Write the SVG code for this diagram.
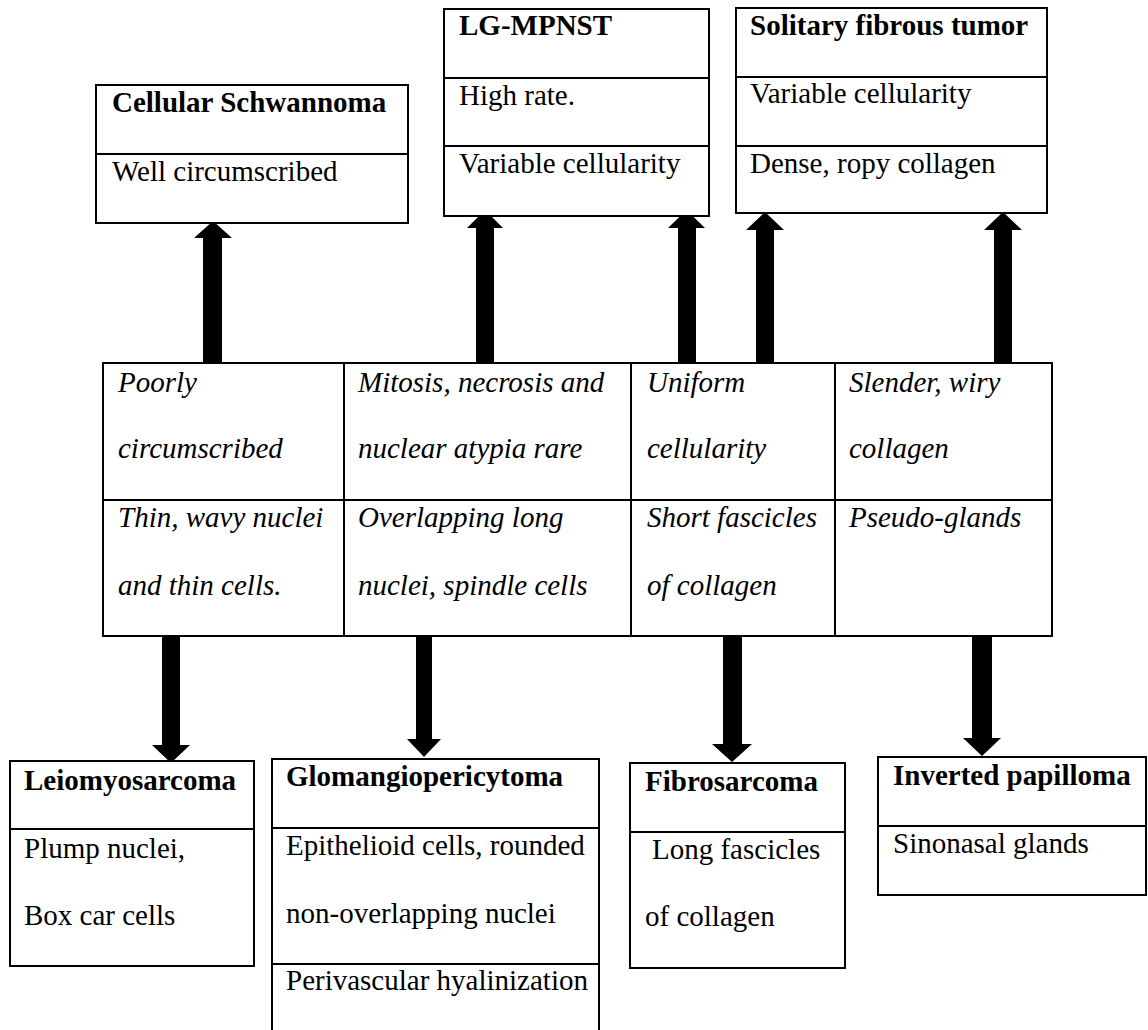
<svg xmlns="http://www.w3.org/2000/svg" width="1148" height="1030" viewBox="0 0 1148 1030">
<style>
.box{fill:#fff;stroke:#000;stroke-width:2}
.ln{stroke:#000;stroke-width:2}
text{font-family:"Liberation Serif","Times New Roman",serif;font-size:29px;fill:#000}
.b{font-weight:bold}
.i{font-style:italic}
.arr{fill:#000}
</style>
<rect width="1148" height="1030" fill="#fff"/>
<g id="connectors">
<polygon class="arr" points="203,362 222,362 222,238 232,238 213,221 194,238 203,238"/>
<polygon class="arr" points="476,362 494,362 494,228 503,228 485,210 467,228 476,228"/>
<polygon class="arr" points="678,362 696,362 696,228 705,228 686.5,210 668,228 678,228"/>
<polygon class="arr" points="756,362 774,362 774,230 784,230 765,212 746,230 756,230"/>
<polygon class="arr" points="994,362 1012,362 1012,230 1022,230 1003,212 984,230 994,230"/>
<polygon class="arr" points="162,635 180,635 180,745 190,745 171,763 152,745 162,745"/>
<polygon class="arr" points="416,635 432,635 432,739 441,739 424,757 407,739 416,739"/>
<polygon class="arr" points="723,635 742,635 742,744 752,744 732,762 712,744 723,744"/>
<polygon class="arr" points="972,635 992,635 992,738 1001,738 982,756 963,738 972,738"/>
</g>
<g id="cellular-schwannoma">
<rect class="box" x="96" y="85" width="312" height="138"/>
<line class="ln" x1="96" y1="154" x2="408" y2="154"/>
<text class="b" x="112" y="112">Cellular Schwannoma</text>
<text x="112" y="181">Well circumscribed</text>
</g>
<g id="lg-mpnst">
<rect class="box" x="444" y="9" width="265" height="207"/>
<line class="ln" x1="444" y1="78" x2="709" y2="78"/>
<line class="ln" x1="444" y1="146" x2="709" y2="146"/>
<text class="b" x="459" y="35">LG-MPNST</text>
<text x="459" y="105">High rate.</text>
<text x="459" y="173">Variable cellularity</text>
</g>
<g id="solitary-fibrous-tumor">
<rect class="box" x="736" y="8" width="311" height="205"/>
<line class="ln" x1="736" y1="77" x2="1047" y2="77"/>
<line class="ln" x1="736" y1="146" x2="1047" y2="146"/>
<text class="b" x="750" y="35">Solitary fibrous tumor</text>
<text x="750" y="103">Variable cellularity</text>
<text x="750" y="173">Dense, ropy collagen</text>
</g>
<g id="features-table">
<rect class="box" x="103" y="363" width="949" height="273"/>
<line class="ln" x1="103" y1="500" x2="1052" y2="500"/>
<line class="ln" x1="344" y1="363" x2="344" y2="636"/>
<line class="ln" x1="631" y1="363" x2="631" y2="636"/>
<line class="ln" x1="835" y1="363" x2="835" y2="636"/>
<text class="i" x="118" y="392">Poorly</text>
<text class="i" x="118" y="458">circumscribed</text>
<text class="i" x="118" y="527">Thin, wavy nuclei</text>
<text class="i" x="118" y="595">and thin cells.</text>
<text class="i" x="358" y="392">Mitosis, necrosis and</text>
<text class="i" x="358" y="458">nuclear atypia rare</text>
<text class="i" x="358" y="527">Overlapping long</text>
<text class="i" x="358" y="595">nuclei, spindle cells</text>
<text class="i" x="647" y="392">Uniform</text>
<text class="i" x="647" y="458">cellularity</text>
<text class="i" x="647" y="527">Short fascicles</text>
<text class="i" x="647" y="595">of collagen</text>
<text class="i" x="849" y="392">Slender, wiry</text>
<text class="i" x="849" y="458">collagen</text>
<text class="i" x="849" y="527">Pseudo-glands</text>
</g>
<g id="leiomyosarcoma">
<rect class="box" x="10" y="761" width="244" height="205"/>
<line class="ln" x1="10" y1="829" x2="254" y2="829"/>
<text class="b" x="24" y="790">Leiomyosarcoma</text>
<text x="24" y="858">Plump nuclei,</text>
<text x="24" y="925">Box car cells</text>
</g>
<g id="glomangiopericytoma">
<rect class="box" x="272" y="759" width="327" height="290"/>
<line class="ln" x1="272" y1="828" x2="599" y2="828"/>
<line class="ln" x1="272" y1="964" x2="599" y2="964"/>
<text class="b" x="286" y="786">Glomangiopericytoma</text>
<text x="286" y="855">Epithelioid cells, rounded</text>
<text x="286" y="923">non-overlapping nuclei</text>
<text x="286" y="990">Perivascular hyalinization</text>
</g>
<g id="fibrosarcoma">
<rect class="box" x="630" y="763" width="215" height="205"/>
<line class="ln" x1="630" y1="832" x2="845" y2="832"/>
<text class="b" x="645" y="791">Fibrosarcoma</text>
<text x="652" y="859">Long fascicles</text>
<text x="645" y="926">of collagen</text>
</g>
<g id="inverted-papilloma">
<rect class="box" x="878" y="757" width="268" height="138"/>
<line class="ln" x1="878" y1="826" x2="1146" y2="826"/>
<text class="b" x="893" y="785">Inverted papilloma</text>
<text x="893" y="853">Sinonasal glands</text>
</g>
</svg>
